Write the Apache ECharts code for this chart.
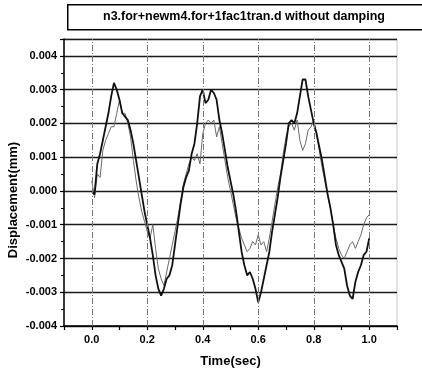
<!DOCTYPE html>
<html>
<head>
<meta charset="utf-8">
<script src="https://cdn.jsdelivr.net/npm/echarts@6/dist/echarts.min.js"></script>
<style>
  html, body { margin: 0; padding: 0; background: #fff; }
  #chart { width: 422px; height: 373px; }
</style>
</head>
<body>
<div id="chart"></div>
<script>
// sample times (sec)
const timeSec = [
  0.00, 0.01, 0.02, 0.03, 0.04, 0.05, 0.06, 0.07, 0.08, 0.09,
  0.10, 0.11, 0.12, 0.13, 0.14, 0.15, 0.16, 0.17, 0.18, 0.19,
  0.20, 0.21, 0.22, 0.23, 0.24, 0.25, 0.26, 0.27, 0.28, 0.29,
  0.30, 0.31, 0.32, 0.33, 0.34, 0.35, 0.36, 0.37, 0.38, 0.39,
  0.40, 0.41, 0.42, 0.43, 0.44, 0.45, 0.46, 0.47, 0.48, 0.49,
  0.50, 0.51, 0.52, 0.53, 0.54, 0.55, 0.56, 0.57, 0.58, 0.59,
  0.60, 0.61, 0.62, 0.63, 0.64, 0.65, 0.66, 0.67, 0.68, 0.69,
  0.70, 0.71, 0.72, 0.73, 0.74, 0.75, 0.76, 0.77, 0.78, 0.79,
  0.80, 0.81, 0.82, 0.83, 0.84, 0.85, 0.86, 0.87, 0.88, 0.89,
  0.90, 0.91, 0.92, 0.93, 0.94, 0.95, 0.96, 0.97, 0.98, 0.99,
  1.00
];

// dark trace (mm)
const dispA = [
  0.0000, -0.0001, 0.0008, 0.0011, 0.0015, 0.0019, 0.0023, 0.0028, 0.0032, 0.0030,
  0.0027, 0.0023, 0.0022, 0.0021, 0.0018, 0.0014, 0.0009, 0.0004, -0.0001, -0.0006,
  -0.0010, -0.0014, -0.0019, -0.0025, -0.0029, -0.0031, -0.0029, -0.0026, -0.0025, -0.0022,
  -0.0016, -0.0010, -0.0004, 0.0001, 0.0004, 0.0006, 0.0011, 0.0014, 0.0020, 0.0028,
  0.0030, 0.0026, 0.0027, 0.0030, 0.0029, 0.0027, 0.0021, 0.0017, 0.0012, 0.0007,
  0.0003, -0.0001, -0.0006, -0.0012, -0.0018, -0.0022, -0.0025, -0.0024, -0.0026, -0.0029,
  -0.0033, -0.0030, -0.0026, -0.0022, -0.0018, -0.0012, -0.0007, -0.0002, 0.0004, 0.0009,
  0.0014, 0.0020, 0.0021, 0.0020, 0.0023, 0.0028, 0.0033, 0.0033, 0.0028, 0.0024,
  0.0020, 0.0017, 0.0013, 0.0009, 0.0004, -0.0001, -0.0005, -0.0010, -0.0016, -0.0019,
  -0.0021, -0.0023, -0.0028, -0.0031, -0.0032, -0.0027, -0.0024, -0.0022, -0.0019, -0.0018,
  -0.0014
];

// light trace (mm)
const dispB = [
  0.0003, -0.0002, 0.0005, 0.0004, 0.0012, 0.0015, 0.0017, 0.0019, 0.0019, 0.0023,
  0.0027, 0.0023, 0.0023, 0.0020, 0.0016, 0.0009, 0.0003, -0.0002, -0.0006, -0.0009,
  -0.0012, -0.0014, -0.0010, -0.0017, -0.0023, -0.0026, -0.0028, -0.0024, -0.0020, -0.0016,
  -0.0012, -0.0008, -0.0003, 0.0002, 0.0005, 0.0008, 0.0010, 0.0009, 0.0011, 0.0008,
  0.0017, 0.0020, 0.0021, 0.0020, 0.0021, 0.0016, 0.0019, 0.0014, 0.0009, 0.0004,
  0.0000, -0.0004, -0.0008, -0.0011, -0.0014, -0.0016, -0.0018, -0.0017, -0.0015, -0.0016,
  -0.0013, -0.0016, -0.0015, -0.0018, -0.0014, -0.0009, -0.0004, 0.0001, 0.0005, 0.0011,
  0.0016, 0.0019, 0.0020, 0.0018, 0.0021, 0.0015, 0.0012, 0.0014, 0.0018, 0.0019,
  0.0021, 0.0017, 0.0012, 0.0007, 0.0003, -0.0001, -0.0005, -0.0010, -0.0014, -0.0017,
  -0.0019, -0.0020, -0.0018, -0.0016, -0.0015, -0.0017, -0.0015, -0.0013, -0.0010, -0.0008,
  -0.0007
];

const xTickLabels = ["0.0", "0.2", "0.4", "0.6", "0.8", "1.0"];
const xGridLines = [0.0, 0.2, 0.4, 0.6, 0.8, 1.0];
const titleText = "n3.for+newm4.for+1fac1tran.d without damping";

const chart = echarts.init(document.getElementById("chart"), null, { renderer: "canvas" });

const labelFont = { color: "#000", fontSize: 11, fontWeight: "bold", fontFamily: "Liberation Sans, Arial, sans-serif" };

chart.setOption({
  animation: false,
  backgroundColor: "#fff",
  grid: { left: 64, right: 25, top: 39, bottom: 47, show: true, borderColor: "#c8c8c8", borderWidth: 1 },
  graphic: [
    {
      type: "rect", left: 67, top: 4, z: 10,
      shape: { width: 380, height: 25 },
      style: { fill: "#fff", stroke: "#000", lineWidth: 1.5 }
    },
    {
      type: "text", x: 244, y: 17, z: 11,
      style: {
        text: titleText, fill: "#000", align: "center", verticalAlign: "middle",
        font: "bold 12.5px 'Liberation Sans', Arial, sans-serif"
      }
    },
    {
      type: "text", x: 13, y: 200, rotation: Math.PI / 2, z: 11,
      style: {
        text: "Displacement(mm)", fill: "#000", align: "center", verticalAlign: "middle",
        font: "bold 13px 'Liberation Sans', Arial, sans-serif"
      }
    }
  ],
  xAxis: {
    type: "value", min: -0.1, max: 1.1, interval: 0.1,
    name: "Time(sec)", nameLocation: "middle", nameGap: 29,
    nameTextStyle: { ...labelFont, fontSize: 13 },
    axisLine: { onZero: false, lineStyle: { color: "#000", width: 1.5 } },
    axisTick: { show: true, length: 4, lineStyle: { color: "#000", width: 1.2 } },
    axisLabel: {
      ...labelFont, margin: 8,
      formatter: v => {
        const s = (Math.round(v * 10) / 10).toFixed(1);
        return xTickLabels.includes(s) ? s : "";
      }
    },
    splitLine: { show: false }
  },
  yAxis: {
    type: "value", min: -0.004, max: 0.0045, interval: 0.001,
    axisLine: { show: true, onZero: false, lineStyle: { color: "#000", width: 1.5 } },
    axisTick: { show: true, length: 4, lineStyle: { color: "#000", width: 1.2 } },
    minorTick: { show: true, splitNumber: 2, length: 3, lineStyle: { color: "#000" } },
    axisLabel: { ...labelFont, margin: 7, showMaxLabel: false, formatter: v => v.toFixed(3) },
    splitLine: { show: true, lineStyle: { color: "#1a1a1a", width: 1.4 } }
  },
  series: [
    {
      type: "line", name: "light", z: 2, symbol: "none",
      data: timeSec.map((t, i) => [t, dispB[i]]),
      lineStyle: { color: "#6a6a6a", width: 1 },
      markLine: {
        silent: true, symbol: "none", label: { show: false },
        lineStyle: { color: "#777", width: 1, type: [6, 2, 1, 2] },
        data: xGridLines.map(x => ({ xAxis: x }))
      }
    },
    {
      type: "line", name: "dark", z: 3, symbol: "none",
      data: timeSec.map((t, i) => [t, dispA[i]]),
      lineStyle: { color: "#111", width: 1.8 }
    }
  ]
});

window.addEventListener("resize", () => chart.resize());
</script>
</body>
</html>
